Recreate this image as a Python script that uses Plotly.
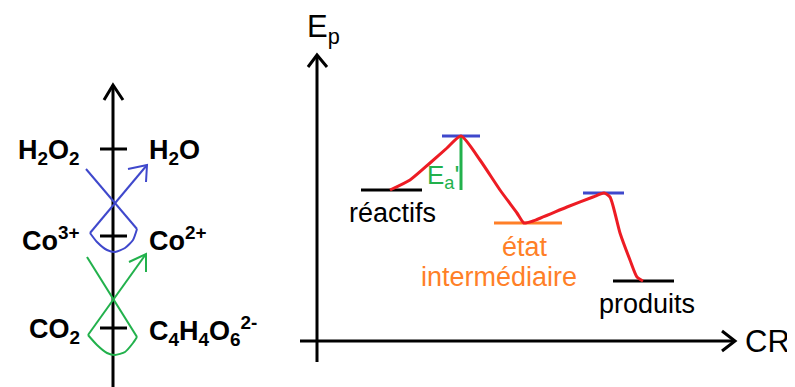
import plotly.graph_objects as go

FONT = "Liberation Sans, Arial, sans-serif"
BLUE = "#3F48CC"
GREEN = "#22B14C"
RED = "#ED1C24"
ORANGE = "#FF7F27"

# ---- left diagram: redox couples on a potential axis (axis at x=0) ----
couple_ox = ["H<sub>2</sub>O<sub>2</sub>", "Co<sup>3+</sup>", "CO<sub>2</sub>"]
couple_red = ["H<sub>2</sub>O", "Co<sup>2+</sup>",
              "C<sub>4</sub>H<sub>4</sub>O<sub>6</sub><sup>2-</sup>"]
couple_e = [238, 151, 59]

# gamma rule strokes (blue: H2O2 / Co2+, green: Co3+ / tartrate)
blue_down_x, blue_down_y = [-27, 24], [218, 158]
blue_up_x, blue_up_y = [-23, 34], [154, 222]
blue_head_x, blue_head_y = [15, 34, 33], [218, 222, 205]
blue_arc_x = [-23, -16, -6, 2, 12, 20, 24]
blue_arc_y = [154, 145, 137, 135, 139, 147, 158]

green_down_x, green_down_y = [-26, 24], [130, 50]
green_up_x, green_up_y = [-25, 33], [52, 133]
green_head_x, green_head_y = [16, 33, 33], [125, 133, 115]
green_arc_x = [-25, -16, -6, 2, 12, 20, 24]
green_arc_y = [52, 42, 34, 32, 35, 44, 50]

# ---- right diagram: energy profile (origin at axes crossing) ----
level_x0 = [44, 125, 177, 266, 296]
level_x1 = [105, 163, 245, 307, 357]
level_ep = [151, 205, 118, 148, 60]
level_colors = ["black", BLUE, ORANGE, BLUE, "black"]

# labels: text, centre CR, top Ep, colour
label_text = ["réactifs", "état", "intermédiaire", "produits"]
label_cr = [75, 208, 182, 330]
label_ep = [145, 111, 81, 54]
label_colors = ["black", ORANGE, ORANGE, "black"]

path_cr = [73, 93, 113, 130, 144, 163, 183, 200, 207, 216, 250, 276, 287,
           293, 303, 313, 320, 326]
path_ep = [151, 161, 178, 193, 205, 181, 151, 128, 118, 120, 134, 144, 148,
           144, 108, 81, 64, 60]

fig = go.Figure()


def seg(x, y, color, width, axes="left", shape="linear"):
    xa, ya = ("x", "y") if axes == "left" else ("x2", "y2")
    fig.add_trace(go.Scatter(x=x, y=y, mode="lines", xaxis=xa, yaxis=ya,
                             line=dict(color=color, width=width, shape=shape,
                                       smoothing=0.6),
                             hoverinfo="skip", showlegend=False))


# left axis with arrow and ticks
seg([0, 0], [-10, 302], "black", 3)
seg([-9, 0, 10], [287, 302, 287], "black", 3)
for e in couple_e:
    seg([-13, 14], [e, e], "black", 3)

seg(blue_down_x, blue_down_y, BLUE, 2)
seg(blue_up_x, blue_up_y, BLUE, 2)
seg(blue_head_x, blue_head_y, BLUE, 2)
seg(blue_arc_x, blue_arc_y, BLUE, 2, shape="spline")
seg(green_down_x, green_down_y, GREEN, 2)
seg(green_up_x, green_up_y, GREEN, 2)
seg(green_head_x, green_head_y, GREEN, 2)
seg(green_arc_x, green_arc_y, GREEN, 2, shape="spline")

# right axes with arrows
seg([0, 0], [-21, 286], "black", 3, axes="right")
seg([-9, 0, 10], [274, 286, 274], "black", 3, axes="right")
seg([-17, 418], [0, 0], "black", 3, axes="right")
seg([405, 418, 405], [10, 0, -10], "black", 3, axes="right")

for x0, x1, ep, c in zip(level_x0, level_x1, level_ep, level_colors):
    seg([x0, x1], [ep, ep], c, 3, axes="right")

# activation energy marker
seg([144, 144], [level_ep[0], level_ep[1]], GREEN, 3, axes="right")

seg(path_cr, path_ep, RED, 3, axes="right", shape="spline")

ann = []
for ox, red, e in zip(couple_ox, couple_red, couple_e):
    ann.append(dict(x=-31, y=e - 3, xref="x", yref="y", text=ox,
                    xanchor="right", yanchor="middle", showarrow=False,
                    font=dict(family=FONT, size=27, color="black",
                              weight="bold")))
    ann.append(dict(x=34, y=e - 3, xref="x", yref="y", text=red,
                    xanchor="left", yanchor="middle", showarrow=False,
                    font=dict(family=FONT, size=27, color="black",
                              weight="bold")))

for t, cx, ep, col in zip(label_text, label_cr, label_ep, label_colors):
    ann.append(dict(x=cx, y=ep, xref="x2", yref="y2", text=t,
                    xanchor="center", yanchor="top", showarrow=False,
                    font=dict(family=FONT, size=27, color=col)))

ann.append(dict(x=108, y=(level_ep[0] + level_ep[1]) / 2 - 13, xref="x2",
                yref="y2", text="E<sub>a</sub>'", xanchor="left",
                yanchor="middle", showarrow=False,
                font=dict(family=FONT, size=26, color=GREEN)))
ann.append(dict(x=-12, y=312, xref="x2", yref="y2", text="E<sub>p</sub>",
                xanchor="left", yanchor="middle", showarrow=False,
                font=dict(family=FONT, size=31, color="black")))
ann.append(dict(x=426, y=0, xref="x2", yref="y2", text="CR",
                xanchor="left", yanchor="middle", showarrow=False,
                font=dict(family=FONT, size=31, color="black")))

ax_off = dict(visible=False, showgrid=False, zeroline=False, fixedrange=True)
fig.update_layout(
    width=795, height=387,
    margin=dict(l=0, r=0, t=0, b=0),
    paper_bgcolor="white", plot_bgcolor="white",
    xaxis=dict(range=[-105, 690], domain=[0, 1], **ax_off),
    yaxis=dict(range=[-8, 379], domain=[0, 1], **ax_off),
    xaxis2=dict(range=[-309, 486], domain=[0, 1], overlaying="x",
                anchor="y2", **ax_off),
    yaxis2=dict(range=[-54, 333], domain=[0, 1], overlaying="y",
                anchor="x2", **ax_off),
    annotations=ann,
    showlegend=False,
)

fig.write_html("out.html", config={"displayModeBar": False})
